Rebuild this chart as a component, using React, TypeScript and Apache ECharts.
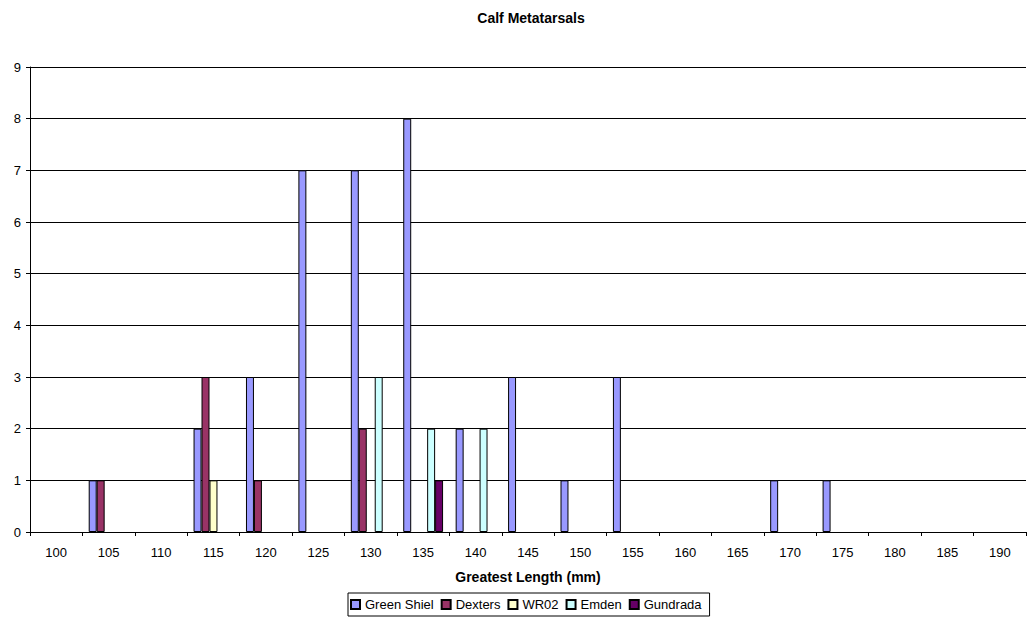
import React, { useEffect, useRef } from "react";
import * as echarts from "echarts";

const categories = ["100","105","110","115","120","125","130","135","140","145","150","155","160","165","170","175","180","185","190"];
const greenShiel = [null,1,null,2,3,7,7,8,2,3,1,3,null,null,1,1,null,null,null];
const dexters = [null,1,null,3,1,null,2,null,null,null,null,null,null,null,null,null,null,null,null];
const wr02 = [null,null,null,1,null,null,null,null,null,null,null,null,null,null,null,null,null,null,null];
const emden = [null,null,null,null,null,null,3,2,2,null,null,null,null,null,null,null,null,null,null];
const gundrada = [null,null,null,null,null,null,null,1,null,null,null,null,null,null,null,null,null,null,null];

const seriesNames = ["Green Shiel","Dexters","WR02","Emden","Gundrada"];
const seriesColors = ["#9999FF","#993366","#FFFFCC","#CCFFFF","#660066"];
const seriesData = [greenShiel, dexters, wr02, emden, gundrada];

const FONT = "'Liberation Sans', Arial, sans-serif";

export default function App() {
  const ref = useRef<HTMLDivElement>(null);
  useEffect(() => {
    if (!ref.current) return;
    const chart = echarts.init(ref.current, null, { renderer: "svg" });
    chart.setOption({
      animation: false,
      backgroundColor: "#ffffff",
      title: {
        text: "Calf Metatarsals",
        left: 526,
        textAlign: "center",
        top: 6,
        textStyle: { fontFamily: FONT, fontSize: 14, fontWeight: "bold", color: "#000" },
      },
      legend: {
        data: seriesNames,
        left: 348,
        top: 593,
        itemWidth: 9,
        itemHeight: 9,
        itemGap: 7,
        padding: [5, 8, 5, 2],
        borderColor: "#000",
        borderWidth: 1,
        textStyle: { fontFamily: FONT, fontSize: 13, color: "#000" },
        icon: "rect",
      },
      grid: { left: 30, right: 1, top: 67, bottom: 94, containLabel: false },
      xAxis: {
        type: "category",
        data: categories,
        name: "Greatest Length (mm)",
        nameLocation: "middle",
        nameGap: 38,
        nameTextStyle: { fontFamily: FONT, fontSize: 14, fontWeight: "bold", color: "#000" },
        axisLine: { lineStyle: { color: "#000", width: 1 } },
        axisTick: { show: true, length: 4, lineStyle: { color: "#000" } },
        axisLabel: { fontFamily: FONT, fontSize: 13, color: "#000", margin: 14, interval: 0 },
        splitLine: { show: false },
      },
      yAxis: {
        type: "value",
        min: 0,
        max: 9,
        interval: 1,
        axisLine: { show: true, lineStyle: { color: "#000", width: 1 } },
        axisTick: { show: true, length: 4, lineStyle: { color: "#000" } },
        axisLabel: { fontFamily: FONT, fontSize: 13, color: "#000", margin: 9 },
        splitLine: { show: true, lineStyle: { color: "#000", width: 1 } },
      },
      series: seriesNames.map((name, i) => ({
        name,
        type: "bar",
        data: seriesData[i],
        barGap: "0%",
        barCategoryGap: "24%",
        itemStyle: { color: seriesColors[i], borderColor: "#000", borderWidth: 1 },
      })),
    });
    return () => chart.dispose();
  }, []);
  return <div ref={ref} style={{ width: 1027, height: 626, position: "absolute", left: 0, top: 0 }} />;
}
